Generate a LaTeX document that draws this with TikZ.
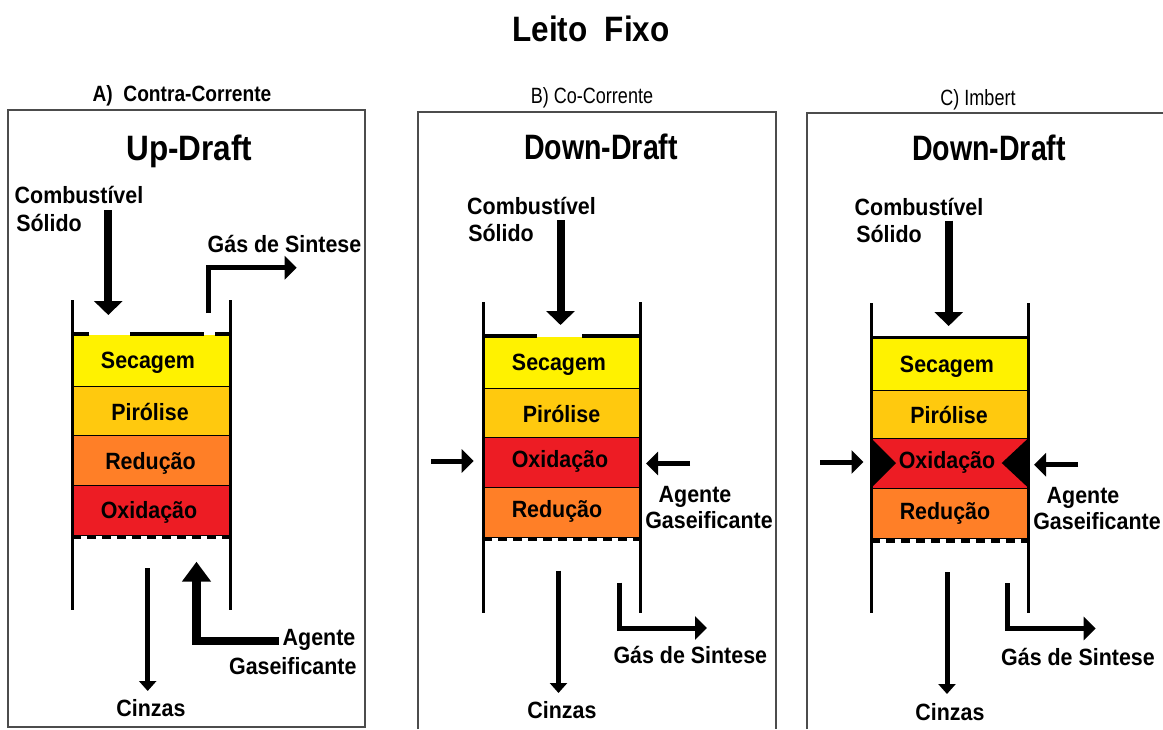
\documentclass[tikz,border=0pt]{standalone}
\usepackage{fontspec}
\setmainfont{Liberation Sans}
\usetikzlibrary{arrows.meta}
\newcommand\lb[1]{\scalebox{1.02}[1.12]{#1}}
\newcommand\bg[2][1]{\scalebox{#1}[1.12]{#2}}
\tikzset{
  x=1pt,y=-1pt,
  lbl/.style={inner sep=0pt,font=\fontsize{21}{21}\selectfont\bfseries,anchor=base},
  big/.style={inner sep=0pt,font=\fontsize{31.5}{32}\selectfont\bfseries,anchor=base},
  head/.style={inner sep=0pt,font=\fontsize{17}{17}\selectfont,anchor=base},
  panel/.style={draw=black!70,line width=1.1pt},
  wall/.style={draw=black,line width=3pt},
  roof/.style={draw=black,line width=3.2pt},
  band/.style={draw=black,line width=.9pt},
  grate/.style={draw=black,line width=3.2pt,dash pattern=on 9pt off 6pt},
  flowA/.style={line width=8pt,-{Triangle[length=14pt,width=28pt]}},
  flowC/.style={line width=5pt,-{Triangle[length=10pt,width=17pt]}},
  flowS/.style={line width=5pt,-{Triangle[length=12pt,width=23pt]}},
  flowG/.style={line width=8.5pt,-{Triangle[length=20pt,width=28pt]}},
}
\definecolor{cyel}{HTML}{FFF200}
\definecolor{cpir}{HTML}{FFC90E}
\definecolor{cred}{HTML}{FF7F27}
\definecolor{coxi}{HTML}{ED1C24}
\begin{document}
\begin{tikzpicture}
\useasboundingbox (0,0) rectangle (1163,729);
\fill[white] (0,0) rectangle (1163,729);
\node[big] (title) at (591,41) {\bg[1]{Leito\ \ Fixo}};
% ---------- Panel A
\node[head,font=\fontsize{17}{17}\selectfont\bfseries] (ha) at (182,101) {\scalebox{1.127}[1.3]{A)\ \ Contra-Corrente}};
\draw[panel] (8,110) rectangle (365,727);
\node[big] (ua) at (189.5,160) {\bg{Up-Draft}};
\fill[cyel] (72,335) rectangle (230,386);
\filldraw[band,fill=cyel] (72,386) -- (230,386);
\filldraw[band,fill=cpir] (72,386) rectangle (230,435);
\filldraw[band,fill=cred] (72,435) rectangle (230,485);
\filldraw[band,fill=coxi] (72,485) rectangle (230,535);
\draw[wall] (72,300) -- (72,610);
\draw[wall] (230,300) -- (230,610);
\draw[roof] (72,334) -- (89,334) (130,334) -- (204,334) (215,334) -- (230,334);
\draw[grate] (72,537) -- (230,537);
\node[lbl] (a1) at (148,368) {\lb{Secagem}};
\node[lbl] (a2) at (150,420) {\lb{Pirólise}};
\node[lbl] (a3) at (150.5,469) {\lb{Redução}};
\node[lbl] (a4) at (149,518) {\lb{Oxidação}};
\node[lbl] (afuel) at (79,203) {\lb{Combustível}};
\node[lbl] (asol) at (49,231) {\lb{Sólido}};
\coordinate (af1) at (108.3,210); \coordinate (af2) at (108.3,315);
\draw[flowA] (af1) -- (af2);
\coordinate (ag1) at (208.7,313); \coordinate (ag2) at (208.7,267.7); \coordinate (ag3) at (296.7,267.7);
\draw[flowS] (ag1) -- (ag2) -- (ag3);
\node[lbl] (agas) at (284.5,252) {\lb{Gás de Sintese}};
\coordinate (ac1) at (147.7,568); \coordinate (ac2) at (147.7,691);
\draw[flowC] (ac1) -- (ac2);
\node[lbl] (acz) at (151,716) {\lb{Cinzas}};
\coordinate (aa1) at (278.7,641); \coordinate (aa2) at (196.5,641); \coordinate (aa3) at (196.5,561.7);
\draw[flowG] (aa1) -- (aa2) -- (aa3);
\node[lbl] (aag) at (319,645) {\lb{Agente}};
\node[lbl] (aag2) at (292.8,674) {\lb{Gaseificante}};
% ---------- Panel B
\node[head] (hb) at (592,103) {\scalebox{1.06}[1.3]{B) Co-Corrente}};
\draw[panel] (418,729) -- (418,112) -- (776,112) -- (776,729);
\node[big] (ub) at (601,159) {\bg[.906]{Down-Draft}};
\fill[cyel] (483,337) rectangle (640,388);
\draw[band] (483,388) -- (640,388);
\filldraw[band,fill=cpir] (483,388) rectangle (640,437);
\filldraw[band,fill=coxi] (483,437) rectangle (640,487.5);
\filldraw[band,fill=cred] (483,487.5) rectangle (640,537);
\draw[wall] (483,302) -- (483,612.5);
\draw[wall] (640,302) -- (640,612.5);
\draw[roof] (483,336) -- (537,336) (582,336) -- (640,336);
\draw[grate] (483,539) -- (640,539);
\node[lbl] (b1) at (559,370) {\lb{Secagem}};
\node[lbl] (b2) at (561.5,422) {\lb{Pirólise}};
\node[lbl] (b3) at (560,467) {\lb{Oxidação}};
\node[lbl] (b4) at (557,517) {\lb{Redução}};
\node[lbl] (bfuel) at (531.5,214) {\lb{Combustível}};
\node[lbl] (bsol) at (501,241) {\lb{Sólido}};
\coordinate (bf1) at (560.5,220); \coordinate (bf2) at (560.5,325);
\draw[flowA] (bf1) -- (bf2);
\coordinate (bi1) at (431,461); \coordinate (bi2) at (473.7,461);
\draw[flowS] (bi1) -- (bi2);
\coordinate (bi3) at (690,463.5); \coordinate (bi4) at (646,463.5);
\draw[flowS] (bi3) -- (bi4);
\node[lbl] (bag) at (695,502) {\lb{Agente}};
\node[lbl] (bag2) at (709,528) {\lb{Gaseificante}};
\coordinate (bg1) at (619.7,582.7); \coordinate (bg2) at (619.7,628); \coordinate (bg3) at (707,628);
\draw[flowS] (bg1) -- (bg2) -- (bg3);
\node[lbl] (bgas) at (690.3,663) {\lb{Gás de Sintese}};
\coordinate (bc1) at (558.5,570.7); \coordinate (bc2) at (558.5,693);
\draw[flowC] (bc1) -- (bc2);
\node[lbl] (bcz) at (562,718) {\lb{Cinzas}};
% ---------- Panel C
\node[head] (hc) at (978,105) {\scalebox{1.06}[1.3]{C) Imbert}};
\draw[panel] (807,729) -- (807,113) -- (1163,113);
\node[big] (uc) at (989,160) {\bg[.906]{Down-Draft}};
\fill[cyel] (871,338) rectangle (1028.5,390);
\draw[band] (871,390) -- (1028.5,390);
\filldraw[band,fill=cpir] (871,390) rectangle (1028.5,438);
\filldraw[band,fill=coxi] (871,438) rectangle (1028.5,488);
\filldraw[band,fill=cred] (871,488) rectangle (1028.5,538);
\fill[black] (871,438) -- (896,463) -- (871,488) -- cycle;
\fill[black] (1028.5,438) -- (1001.7,463) -- (1028.5,488) -- cycle;
\draw[wall] (871,303) -- (871,613);
\draw[wall] (1028.5,303) -- (1028.5,613);
\draw[roof] (871,337.5) -- (1028.5,337.5);
\draw[grate] (871,541) -- (1028.5,541);
\node[lbl] (c1) at (947,372) {\lb{Secagem}};
\node[lbl] (c2) at (949,423) {\lb{Pirólise}};
\node[lbl] (c3) at (947,468) {\lb{Oxidação}};
\node[lbl] (c4) at (945,519) {\lb{Redução}};
\node[lbl] (cfuel) at (919,215) {\lb{Combustível}};
\node[lbl] (csol) at (889,242) {\lb{Sólido}};
\coordinate (cf1) at (948.7,220.7); \coordinate (cf2) at (948.7,326);
\draw[flowA] (cf1) -- (cf2);
\coordinate (ci1) at (820,462); \coordinate (ci2) at (863.5,462);
\draw[flowS] (ci1) -- (ci2);
\coordinate (ci3) at (1078,464.7); \coordinate (ci4) at (1034,464.7);
\draw[flowS] (ci3) -- (ci4);
\node[lbl] (cag) at (1083,503) {\lb{Agente}};
\node[lbl] (cag2) at (1097,529) {\lb{Gaseificante}};
\coordinate (cg1) at (1007.7,583); \coordinate (cg2) at (1007.7,628.5); \coordinate (cg3) at (1095.7,628.5);
\draw[flowS] (cg1) -- (cg2) -- (cg3);
\node[lbl] (cgas) at (1078,665) {\lb{Gás de Sintese}};
\coordinate (cc1) at (947,572); \coordinate (cc2) at (947,694);
\draw[flowC] (cc1) -- (cc2);
\node[lbl] (ccz) at (950,720) {\lb{Cinzas}};
\end{tikzpicture}
\end{document}
